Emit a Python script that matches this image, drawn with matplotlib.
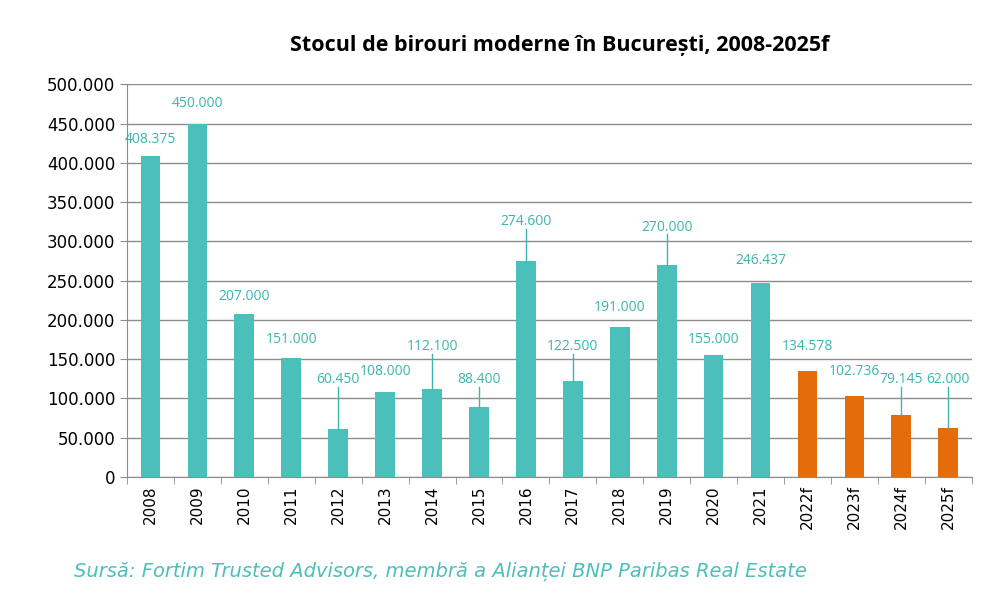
import matplotlib
matplotlib.use("Agg")
import matplotlib.pyplot as plt
from matplotlib.ticker import FuncFormatter, FixedLocator

years = ["2008","2009","2010","2011","2012","2013","2014","2015","2016","2017",
         "2018","2019","2020","2021","2022f","2023f","2024f","2025f"]
values = [408375,450000,207000,151000,60450,108000,112100,88400,274600,122500,
          191000,270000,155000,246437,134578,102736,79145,62000]
forecast = [False]*14 + [True]*4
# label placement heights (layout)
label_y = [430000,475000,230000,175000,124000,134000,166000,124000,325000,166000,
           216000,318000,175000,276000,166000,134000,124000,124000]

def fmt(v):
    return f"{v:,.0f}".replace(",", ".")

teal = "#4BC0BA"; orange = "#E46C0A"; lab = "#3BB5AF"
fig = plt.figure(figsize=(10.08, 6.06), dpi=100)
ax = fig.add_axes([0.126, 0.213, 0.838, 0.648])
x = list(range(len(years)))
cols = [orange if f else teal for f in forecast]
ax.bar(x, values, width=0.42, color=cols, zorder=3)
for xi, v, ly in zip(x, values, label_y):
    if ly - v > 35000:
        ax.plot([xi, xi], [v, ly - 9000], color=lab, lw=1, zorder=4)
    ax.text(xi, ly, fmt(v), ha="center", va="center", color=lab, fontsize=10, family="Open Sans")
ax.set_ylim(0, 500000)
ax.set_xlim(-0.5, len(years) - 0.5)
ax.set_yticks(range(0, 500001, 50000))
ax.yaxis.set_major_formatter(FuncFormatter(lambda v, p: fmt(v)))
ax.grid(axis="y", color="#8c8c8c", lw=1, zorder=0)
ax.set_xticks(x)
ax.set_xticklabels(years, rotation=90, fontsize=11)
ax.tick_params(axis="x", length=0, pad=6)
ax.xaxis.set_minor_locator(FixedLocator([i - 0.5 for i in range(len(years) + 1)]))
ax.tick_params(axis="x", which="minor", length=5, color="#8c8c8c")
ax.tick_params(axis="y", length=5, color="#8c8c8c", labelsize=12)
for s in ["top", "right"]:
    ax.spines[s].set_visible(False)
for s in ["left", "bottom"]:
    ax.spines[s].set_color("#8c8c8c")
fig.text(0.555, 0.925, "Stocul de birouri moderne în București, 2008-2025f",
         ha="center", va="center", fontsize=15.5, fontweight="bold", family="Open Sans")
fig.text(0.073, 0.057, "Sursă: Fortim Trusted Advisors, membră a Alianței BNP Paribas Real Estate",
         ha="left", va="center", fontsize=14, style="italic", color="#4BC0BA")
fig.savefig("out.png", dpi=100)
